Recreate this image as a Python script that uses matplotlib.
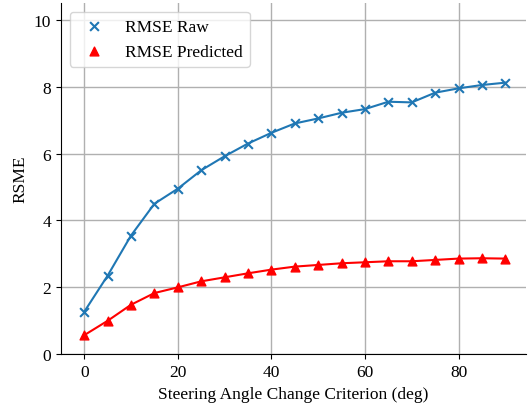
import matplotlib
matplotlib.use("Agg")
import matplotlib.pyplot as plt

plt.rcParams['font.family'] = ['Liberation Serif', 'DejaVu Serif']
plt.rcParams['font.size'] = 12.5

criterion = [0, 5, 10, 15, 20, 25, 30, 35, 40, 45, 50, 55, 60, 65, 70, 75, 80, 85, 90]
rmse_raw = [1.27, 2.35, 3.55, 4.5, 4.95, 5.5, 5.92, 6.3, 6.62, 6.9, 7.05, 7.22,
            7.33, 7.55, 7.53, 7.82, 7.95, 8.05, 8.12]
rmse_pred = [0.57, 1.0, 1.48, 1.83, 2.0, 2.18, 2.3, 2.42, 2.53, 2.62, 2.67, 2.72,
             2.75, 2.78, 2.78, 2.82, 2.86, 2.87, 2.86]

fig, ax = plt.subplots(figsize=(5.29, 4.06), dpi=100)
fig.subplots_adjust(left=0.115, right=0.995, top=0.99, bottom=0.125)

ax.scatter(criterion, rmse_raw, marker='x', color='#1f77b4', s=40, zorder=3, label='RMSE Raw')
ax.plot(criterion, rmse_raw, color='#1f77b4', lw=1.5, zorder=2)
ax.scatter(criterion, rmse_pred, marker='^', color='red', s=40, zorder=3, label='RMSE Predicted')
ax.plot(criterion, rmse_pred, color='red', lw=1.5, zorder=2)

ax.set_ylim(0, 10.5)
ax.set_xlim(-5, 94.5)
ax.set_yticks([0, 2, 4, 6, 8, 10])
ax.grid(True, color='#b0b0b0', lw=1)
ax.set_axisbelow(True)
for sp in ['top', 'right']:
    ax.spines[sp].set_visible(False)

ax.set_xlabel('Steering Angle Change Criterion (deg)')
ax.set_ylabel('RSME')
ax.legend(loc='upper left')

fig.savefig('out.png', dpi=100)
